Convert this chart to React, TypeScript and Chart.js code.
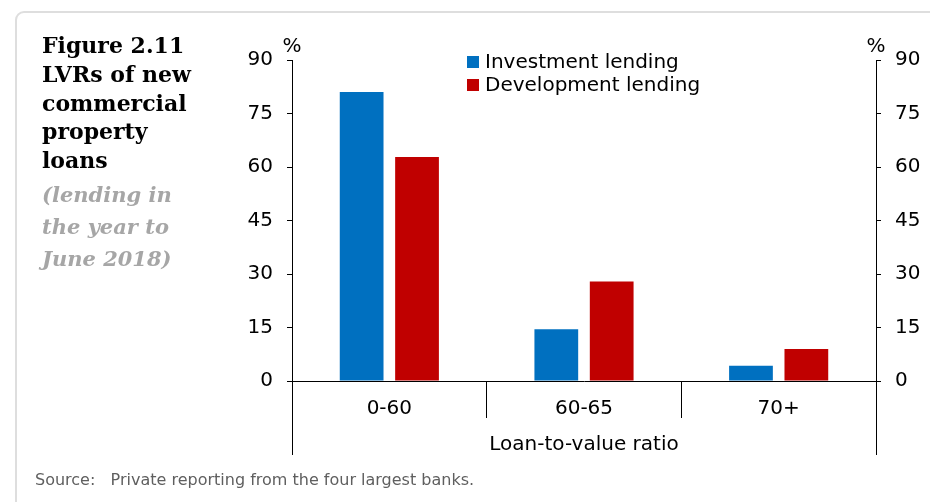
import React, { useEffect, useRef } from 'react';
import { Chart, registerables } from 'chart.js';

Chart.register(...registerables);

const categories = ['0-60', '60-65', '70+'];
const investmentLending = [81, 14.5, 4.3];
const developmentLending = [62.8, 27.9, 9];
const seriesLabels = ['Investment lending', 'Development lending'];
const seriesColors = ['#0070C0', '#C00000'];
const yMin = 0;
const yMax = 90;
const yStep = 15;
const xTitle = 'Loan-to-value ratio';
const unitLabel = '%';

const SANS = '"DejaVu Sans", "Liberation Sans", Arial, sans-serif';
const SERIF = '"DejaVu Serif", "Liberation Serif", serif';

export default function App() {
  const canvasRef = useRef<HTMLCanvasElement | null>(null);

  useEffect(() => {
    const canvas = canvasRef.current;
    if (!canvas) return;

    const alignPx = (p: number) => Math.round(p - 0.5) + 0.5;

    const decor = {
      id: 'decor',
      afterDraw(chart: any) {
        const { ctx, chartArea: ca, scales } = chart;
        const xs = scales.x;
        ctx.save();
        ctx.strokeStyle = '#000';
        ctx.lineWidth = 1;
        // category separators below the axis
        for (let i = 0; i < categories.length - 1; i++) {
          const px = alignPx((xs.getPixelForValue(i) + xs.getPixelForValue(i + 1)) / 2);
          ctx.beginPath();
          ctx.moveTo(px, ca.bottom);
          ctx.lineTo(px, ca.bottom + 37);
          ctx.stroke();
        }
        [ca.left, ca.right].forEach((p: number) => {
          const px = alignPx(p);
          ctx.beginPath();
          ctx.moveTo(px, ca.bottom);
          ctx.lineTo(px, ca.bottom + 74);
          ctx.stroke();
        });
        // unit labels
        ctx.fillStyle = '#000';
        ctx.font = `20px ${SANS}`;
        ctx.textAlign = 'center';
        ctx.textBaseline = 'middle';
        ctx.fillText(unitLabel, ca.left, ca.top - 13);
        ctx.fillText(unitLabel, ca.right, ca.top - 13);
        // legend
        chart.data.datasets.forEach((ds: any, i: number) => {
          const cy = 62 + i * 23;
          ctx.fillStyle = ds.backgroundColor;
          ctx.fillRect(467, cy - 6, 12, 12);
          ctx.fillStyle = '#000';
          ctx.textAlign = 'left';
          ctx.fillText(ds.label, 485, cy + 1);
        });
        ctx.restore();
      },
    };

    const tickFont = { family: SANS, size: 20 };
    const yCommon = {
      min: yMin,
      max: yMax,
      ticks: { stepSize: yStep, color: '#000', font: tickFont, padding: 14 },
      grid: { drawOnChartArea: false, drawTicks: true, tickLength: 5, color: '#000', lineWidth: 1 },
      border: { display: true, color: '#000', width: 1 },
    };

    const chart = new Chart(canvas, {
      type: 'bar',
      data: {
        labels: categories,
        datasets: [
          {
            label: seriesLabels[0],
            data: investmentLending,
            backgroundColor: seriesColors[0],
            borderWidth: 0,
            yAxisID: 'y',
            categoryPercentage: 0.569,
            barPercentage: 0.79,
          },
          {
            label: seriesLabels[1],
            data: developmentLending,
            backgroundColor: seriesColors[1],
            borderWidth: 0,
            yAxisID: 'y',
            categoryPercentage: 0.569,
            barPercentage: 0.79,
          },
        ],
      },
      options: {
        responsive: false,
        animation: false,
        devicePixelRatio: 1,
        layout: { padding: { left: 230, right: 0, top: 60, bottom: 11 } },
        plugins: {
          legend: { display: false },
          tooltip: { enabled: false },
        },
        scales: {
          x: {
            type: 'category',
            offset: true,
            grid: { display: false, drawTicks: false },
            border: { display: true, color: '#000', width: 1 },
            ticks: { color: '#000', font: tickFont, padding: 16 },
            title: {
              display: true,
              text: xTitle,
              color: '#000',
              font: tickFont,
              padding: { top: 0, bottom: 34 },
            },
            afterFit: (s: any) => {
              s.height = 110;
            },
          },
          y: {
            ...yCommon,
            position: 'left',
            afterFit: (s: any) => {
              s.width = 62;
            },
          },
          y2: {
            ...yCommon,
            position: 'right',
            afterFit: (s: any) => {
              s.width = 54;
            },
          },
        },
      } as any,
      plugins: [decor],
    });

    return () => {
      chart.destroy();
    };
  }, []);

  return (
    <div
      style={{
        position: 'fixed',
        left: 0,
        top: 0,
        width: 930,
        height: 502,
        background: '#fff',
        overflow: 'hidden',
      }}
    >
      <div
        style={{
          position: 'absolute',
          left: 15,
          top: 11,
          width: 960,
          height: 540,
          border: '2px solid #DEDEDE',
          borderRadius: 9,
          boxSizing: 'border-box',
        }}
      />
      <canvas
        ref={canvasRef}
        width={930}
        height={502}
        style={{ position: 'absolute', left: 0, top: 0, width: 930, height: 502 }}
      />
      <div
        style={{
          position: 'absolute',
          left: 42,
          top: 31,
          fontFamily: SERIF,
          fontWeight: 'bold',
          fontSize: 22,
          lineHeight: '28.8px',
          color: '#000',
          whiteSpace: 'nowrap',
        }}
      >
        <div>Figure 2.11</div>
        <div>LVRs of new</div>
        <div>commercial</div>
        <div>property</div>
        <div>loans</div>
      </div>
      <div
        style={{
          position: 'absolute',
          left: 42,
          top: 179,
          fontFamily: SERIF,
          fontWeight: 'bold',
          fontStyle: 'italic',
          fontSize: 21,
          lineHeight: '32px',
          color: '#A6A6A6',
          whiteSpace: 'nowrap',
        }}
      >
        <div>(lending in</div>
        <div>the year to</div>
        <div>June 2018)</div>
      </div>
      <div
        style={{
          position: 'absolute',
          left: 35,
          top: 470,
          fontFamily: SANS,
          fontSize: 16,
          lineHeight: '20px',
          color: '#5F5F5F',
          whiteSpace: 'pre',
        }}
      >
        {'Source:   Private reporting from the four largest banks.'}
      </div>
    </div>
  );
}
